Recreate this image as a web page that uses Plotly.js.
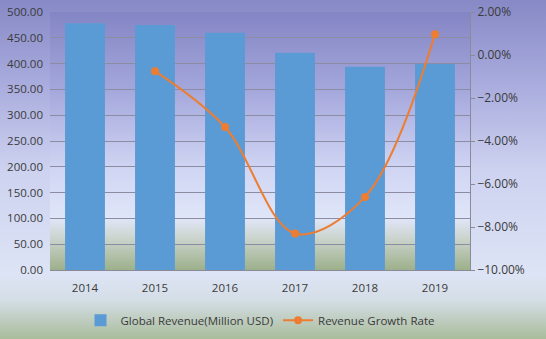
<!DOCTYPE html>
<html>
<head>
<meta charset="utf-8">
<script src="https://cdn.plot.ly/plotly-3.0.1.min.js"></script>
<style>
html,body{margin:0;padding:0;}
body{width:546px;height:339px;overflow:hidden;
background:linear-gradient(to bottom,#8789c6 0px,#a7aadc 80px,#cdd2f0 170px,#dde4f5 275px,#d4dee6 300px,#a9bc9b 339px);}
#chart{width:546px;height:339px;}
</style>
</head>
<body>
<div id="chart"></div>
<script>
const years = ['2014','2015','2016','2017','2018','2019'];
const revenue = [478, 475, 460, 421, 394, 399];
const growthYears = ['2015','2016','2017','2018','2019'];
const growthRate = [-0.75, -3.35, -8.3, -6.6, 0.97];

const plotBg = '<svg xmlns="http://www.w3.org/2000/svg" width="100" height="100" preserveAspectRatio="none">' +
 '<defs><linearGradient id="g" x1="0" y1="0" x2="0" y2="1">' +
 '<stop offset="0" stop-color="#8485c4"/>' +
 '<stop offset="0.3" stop-color="#a4a7db"/>' +
 '<stop offset="0.6" stop-color="#cfd4f3"/>' +
 '<stop offset="0.8" stop-color="#e0e6f8"/>' +
 '<stop offset="0.88" stop-color="#cbd3cc"/>' +
 '<stop offset="1" stop-color="#9cb08a"/>' +
 '</linearGradient></defs><rect width="100" height="100" fill="url(#g)"/></svg>';

const txt = '#3a3a3a';
const font = {family:'Open Sans, sans-serif', size:11.5, color:txt};
const rfont = {family:'Open Sans, sans-serif', size:12, color:txt};
const lfont = {family:'Open Sans, sans-serif', size:11.5, color:txt};

const data = [
 {type:'bar', name:'Global Revenue(Million USD)', x:years, y:revenue,
  marker:{color:'#5b9bd5'}, yaxis:'y'},
 {type:'scatter', mode:'lines+markers', name:'Revenue Growth Rate', x:growthYears, y:growthRate,
  yaxis:'y2', line:{color:'#ed7d31', width:2, shape:'spline', smoothing:1},
  marker:{color:'#ed7d31', size:8}}
];

const layout = {
 width:546, height:339,
 margin:{l:50, r:76, t:12, b:69, autoexpand:false},
 paper_bgcolor:'rgba(0,0,0,0)', plot_bgcolor:'rgba(0,0,0,0)',
 font:font, bargap:0.43, showlegend:true,
 legend:{orientation:'h', x:0.5, xanchor:'center', y:-0.195, yanchor:'middle', font:lfont, bgcolor:'rgba(0,0,0,0)', itemwidth:30},
 xaxis:{type:'category', showline:true, linecolor:'#8a8a9a', linewidth:1, ticks:'', tickfont:font, fixedrange:true, automargin:false, ticklabelstandoff:7},
 yaxis:{range:[0,500], dtick:50, tickformat:'.2f', showgrid:true, gridcolor:'#8c8ca2', gridwidth:1,
  zeroline:false, showline:false, ticks:'', tickfont:font, ticklabelstandoff:6, automargin:false},
 yaxis2:{overlaying:'y', side:'right', range:[-10,2], dtick:2, tickformat:'.2f', ticksuffix:'%',
  showgrid:false, zeroline:false, showline:true, linecolor:'#8a8a9a', ticks:'outside', ticklen:4, tickcolor:'#8a8a9a',
  tickfont:rfont, automargin:false},
 images:[{source:'data:image/svg+xml;charset=utf-8,'+encodeURIComponent(plotBg), xref:'paper', yref:'paper',
  x:0, y:1, sizex:1, sizey:1, xanchor:'left', yanchor:'top', sizing:'stretch', layer:'below'}]
};

Plotly.newPlot('chart', data, layout, {displayModeBar:false, staticPlot:true});
</script>
</body>
</html>
